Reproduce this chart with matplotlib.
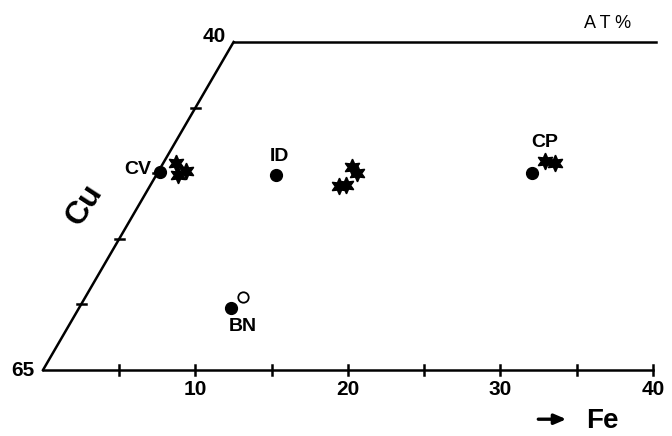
import matplotlib
matplotlib.use("Agg")
import matplotlib.pyplot as plt
import numpy as np

plt.rcParams['font.family'] = ['Liberation Sans', 'DejaVu Sans']

# ---- data (atomic %) ----
fe_ticks = [5, 10, 15, 20, 25, 30, 35, 40]
fe_tick_labels = ['10', '20', '30', '40']
fe_label_vals = [10, 20, 30, 40]
cu_ticks = [45, 50, 55, 60]
cu_range = [40, 65]

mineral_names = ['CV', 'ID', 'CP', 'BN']
mineral_fe = [0.1, 7.8, 24.6, 10.0]
mineral_cu = [49.9, 50.1, 50.0, 60.3]

open_fe = [10.3]
open_cu = [59.4]

star_fe = [0.8, 1.4, 1.8, 12.5, 13.1, 12.4, 12.8, 25.0, 25.7]
star_cu = [49.2, 50.1, 49.8, 49.5, 50.0, 51.0, 50.9, 49.1, 49.2]

# ternary-style skew: lines of constant Fe are parallel to the Cu-S join
def X(fe, cu):
    return np.asarray(fe, float) + 0.5 * (65 - np.asarray(cu, float))

fig = plt.figure(figsize=(6.72, 4.36), dpi=100)
ax = fig.add_axes([0, 0, 1, 1])
ax.set_xlim(-2.82, 41.25)
ax.set_ylim(70.03, 36.8)
ax.axis('off')

lw = 1.8
# frame
top_end_X = 40.2
ax.plot([X(0, 65), X(0, 40)], [65, 40], color='black', lw=lw)
ax.plot([X(0, 40), top_end_X], [40, 40], color='black', lw=lw)
ax.plot([X(0, 65), X(40, 65)], [65, 65], color='black', lw=lw)

# bottom ticks
for f in fe_ticks:
    ax.plot([X(f, 65), X(f, 65)], [64.6, 65.4], color='black', lw=lw)
for f, lab in zip(fe_label_vals, fe_tick_labels):
    ax.text(X(f, 65), 66.5, lab, ha='center', va='center', fontsize=15,
            fontweight='bold')
# left-edge ticks
for c in cu_ticks:
    ax.plot([X(0, c) - 0.3, X(0, c) + 0.3], [c, c], color='black', lw=lw)
ax.text(X(0, 65) - 0.55, 65, '65', ha='right', va='center', fontsize=15,
        fontweight='bold')
ax.text(X(0, 40) - 0.5, 39.6, '40', ha='right', va='center', fontsize=15,
        fontweight='bold')

ax.text(37.0, 38.6, 'A T %', ha='center', va='center', fontsize=13)

# axis titles
ax.text(2.75, 52.4, 'Cu', rotation=57, ha='center', va='center',
        fontsize=23, fontweight='bold')
ax.annotate('', xy=(34.5, 68.75), xytext=(32.3, 68.75),
            arrowprops=dict(arrowstyle='-|>,head_length=0.7,head_width=0.3',
                            color='black', lw=2.4))
ax.text(35.6, 68.9, 'Fe', ha='left', va='center', fontsize=20, fontweight='bold')

# markers
ax.plot(X(star_fe, star_cu), star_cu, linestyle='none', marker=(6, 1, 0),
        markersize=12, color='black')
ax.plot(X(mineral_fe, mineral_cu), mineral_cu, linestyle='none', marker='o',
        markersize=8.5, color='black')
ax.plot(X(open_fe, open_cu), open_cu, linestyle='none', marker='o',
        markersize=7.5, markerfacecolor='white', markeredgecolor='black',
        markeredgewidth=1.3)

offsets = {'CV': (-6, 2, 'right'), 'ID': (3, 13, 'center'),
           'CP': (9, 22, 'center'), 'BN': (8, -13, 'center')}
for n, f, c in zip(mineral_names, mineral_fe, mineral_cu):
    dx, dy, ha = offsets[n]
    ax.annotate(n, (X(f, c), c), xytext=(dx, dy), textcoords='offset points',
                ha=ha, va='center', fontsize=14, fontweight='bold')

fig.savefig('out.png', dpi=100)
